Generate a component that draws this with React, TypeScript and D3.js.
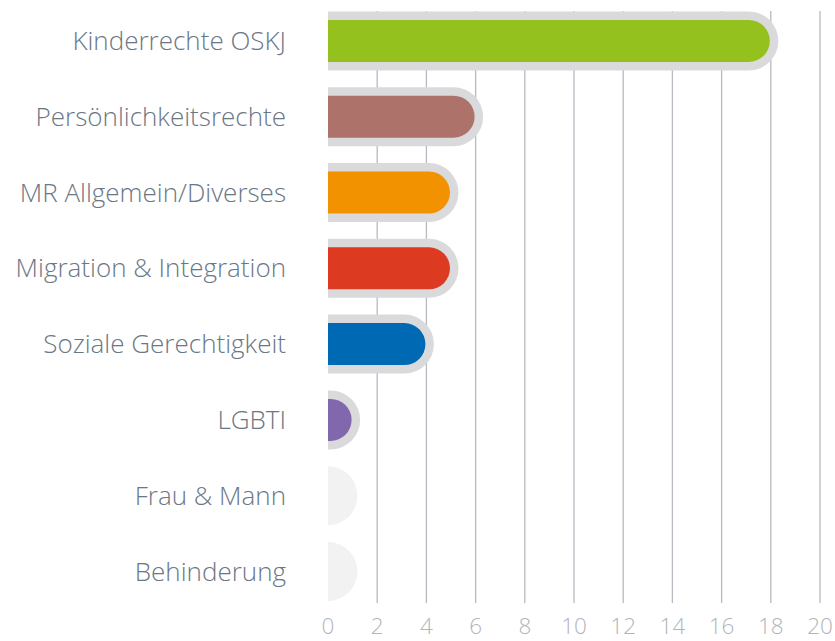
import React from "react";
import * as d3 from "d3";

const categories = [
  "Kinderrechte OSKJ",
  "Persönlichkeitsrechte",
  "MR Allgemein/Diverses",
  "Migration & Integration",
  "Soziale Gerechtigkeit",
  "LGBTI",
  "Frau & Mann",
  "Behinderung",
];
const values = [18, 6, 5, 5, 4, 1, 0, 0];
const colors = ["#95c11f", "#ad736a", "#f39200", "#dc3a21", "#0069b4", "#8168ac", "#f2f2f2", "#f2f2f2"];
const ticks = [0, 2, 4, 6, 8, 10, 12, 14, 16, 18, 20];

const W = 835;
const H = 641;
const left = 328;
const right = 820;
const top = 11;
const bottom = 603;

export default function App() {
  const x = d3.scaleLinear().domain([0, 20]).range([left, right]);
  const y = d3
    .scaleBand<string>()
    .domain(categories)
    .range([3, 3 + 75.8 * 8]);
  const rIn = 21;
  const ring = 8.5;
  const rOut = rIn + ring;
  return (
    <svg
      width={W}
      height={H}
      style={{ position: "absolute", left: 0, top: 0 }}
      fontFamily="'Open Sans', 'Noto Sans', sans-serif"
    >
      <defs>
        <clipPath id="plot">
          <rect x={left} y={0} width={W - left} height={bottom} />
        </clipPath>
      </defs>
      {ticks.slice(1).map((t) => (
        <line key={t} x1={x(t)} x2={x(t)} y1={top} y2={bottom} stroke="#b9b9c1" strokeWidth={1.3} />
      ))}
      {ticks.map((t) => (
        <text
          key={"t" + t}
          x={x(t)}
          y={634}
          textAnchor="middle"
          fontSize={22.5}
          fontWeight={300}
          fill="#b3b3bb"
        >
          {t}
        </text>
      ))}
      <g clipPath="url(#plot)">
        {categories.map((c, i) => {
          const cy = (y(c) as number) + y.bandwidth() / 2;
          const v = values[i];
          if (v === 0) {
            return (
              <rect
                key={c}
                x={left - 60}
                y={cy - rOut}
                width={60 + rOut}
                height={rOut * 2}
                rx={rOut}
                fill={colors[i]}
              />
            );
          }
          const endIn = Math.max(x(v) - 1, left + rIn);
          return (
            <g key={c}>
              <rect
                x={left - 80}
                y={cy - rOut}
                width={endIn + ring - (left - 80)}
                height={rOut * 2}
                rx={rOut}
                fill="#dadadc"
              />
              <rect
                x={left - 80}
                y={cy - rIn}
                width={endIn - (left - 80)}
                height={rIn * 2}
                rx={rIn}
                fill={colors[i]}
              />
            </g>
          );
        })}
      </g>
      {categories.map((c, i) => {
        const cy = (y(c) as number) + y.bandwidth() / 2;
        return (
          <text
            key={"l" + c}
            x={286}
            y={cy}
            dy="0.35em"
            textAnchor="end"
            fontSize={26}
            fontWeight={300}
            fill="#6b7785"
          >
            {c}
          </text>
        );
      })}
    </svg>
  );
}
